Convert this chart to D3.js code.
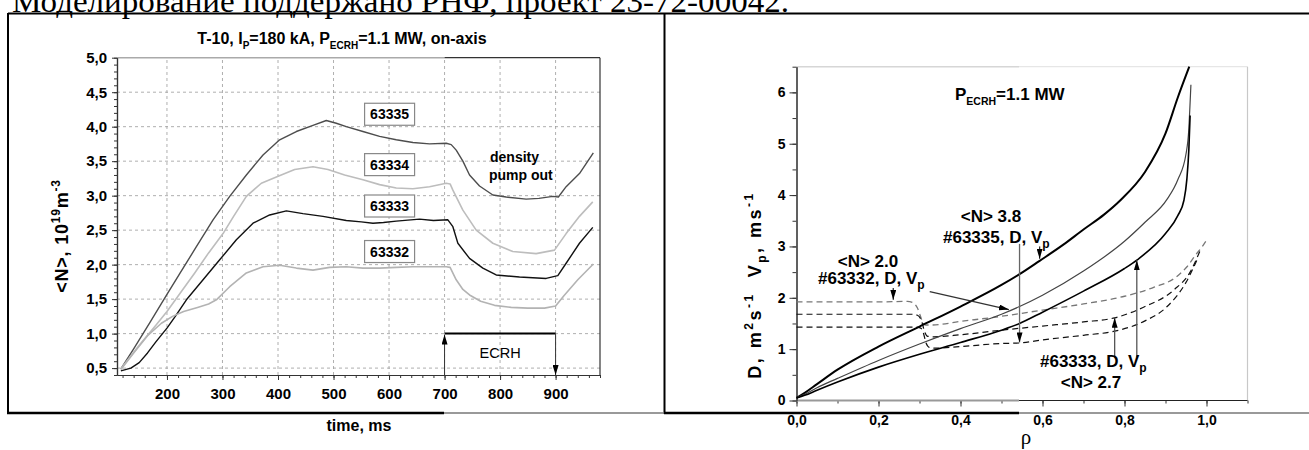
<!DOCTYPE html>
<html><head><meta charset="utf-8">
<script src="https://cdn.jsdelivr.net/npm/d3@7"></script>
<style>
body{margin:0;background:#fff;}
svg{display:block;}
</style></head><body>
<svg id="c" width="1309" height="450" font-family='"Liberation Sans",Arial,sans-serif'></svg>
<script>
// ---------------- DATA (left panel: line-averaged density vs time) ----------------
const timeTicks=[200,300,400,500,600,700,800,900];
const timeMinor=d3.range(120,981,20);
const densTicks=[0.5,1.0,1.5,2.0,2.5,3.0,3.5,4.0,4.5,5.0];
const densMinor=d3.range(4,51,1).map(d=>d/10);

const t63335=[117,140,170,200,223,253,283,313,343,373,403,433,463,487,505,523,553,583,613,643,673,703,712,721,733,745,763,787,811,847,870,895,905,919,943,968];
const n63335=[0.49,0.78,1.17,1.57,1.87,2.26,2.65,2.99,3.30,3.59,3.81,3.93,4.02,4.09,4.05,4.00,3.93,3.86,3.81,3.77,3.75,3.76,3.74,3.66,3.50,3.30,3.14,3.01,2.98,2.95,2.96,2.99,2.98,3.13,3.32,3.62];
const t63334=[117,150,180,200,225,250,275,301,320,343,370,397,430,463,490,520,553,583,613,643,673,703,710,715,733,757,787,823,865,898,919,943,967];
const n63334=[0.49,0.83,1.12,1.32,1.60,1.88,2.17,2.45,2.70,2.99,3.18,3.27,3.38,3.42,3.38,3.30,3.23,3.16,3.11,3.10,3.13,3.18,3.17,3.08,2.79,2.50,2.31,2.19,2.16,2.21,2.45,2.70,2.91];
const t63333=[117,135,150,165,180,200,215,235,265,295,325,355,385,415,445,481,523,550,571,590,613,655,680,706,715,724,745,769,793,835,883,904,919,943,967];
const n63333=[0.46,0.50,0.58,0.72,0.88,1.08,1.25,1.49,1.78,2.07,2.36,2.60,2.72,2.78,2.74,2.70,2.64,2.62,2.60,2.61,2.63,2.66,2.64,2.65,2.55,2.31,2.09,1.95,1.85,1.82,1.80,1.84,2.02,2.31,2.54];
const t63332=[117,140,165,190,210,230,255,275,289,313,343,373,403,433,463,493,523,553,583,613,643,673,703,710,721,733,745,765,790,820,850,880,900,915,940,968];
const n63332=[0.48,0.72,0.97,1.15,1.25,1.32,1.38,1.43,1.49,1.68,1.88,1.97,1.99,1.95,1.92,1.96,1.97,1.95,1.95,1.96,1.97,1.97,1.97,1.96,1.78,1.64,1.56,1.47,1.41,1.38,1.37,1.37,1.40,1.55,1.78,2.01];
const shotNames=["63335","63334","63333","63332"];
const labelTime=601;
const labelDens=[4.18,3.45,2.85,2.19];
const ecrhStart=700, ecrhEnd=900, ecrhLevel=1.0;

// ---------------- DATA (right panel: D and Vp profiles vs rho) ----------------
const rhoTicks=[0,0.2,0.4,0.6,0.8,1.0];
const rhoMinor=d3.range(0,12,1).map(d=>d/10);
const dvTicks=[0,1,2,3,4,5,6];
const dvMinor=d3.range(0,14,1).map(d=>d/2);

const rhoD63335=[0,0.02,0.05,0.1,0.2,0.3,0.4,0.5,0.544,0.593,0.65,0.7,0.75,0.79,0.85,0.9,0.93,0.958];
const D63335   =[0.05,0.15,0.32,0.6,1.05,1.44,1.83,2.25,2.46,2.72,3.03,3.33,3.62,3.9,4.45,5.2,5.9,6.5];
const rhoD63332=[0,0.02,0.05,0.1,0.2,0.3,0.4,0.5,0.544,0.6,0.7,0.8,0.85,0.904,0.93,0.95,0.957,0.96,0.962];
const D63332   =[0.05,0.12,0.25,0.43,0.78,1.1,1.4,1.68,1.83,2.05,2.52,3.1,3.47,3.92,4.3,4.8,5.3,5.8,6.15];
const rhoD63333=[0,0.02,0.05,0.1,0.2,0.3,0.4,0.5,0.544,0.6,0.7,0.8,0.831,0.9,0.93,0.945,0.952,0.957,0.96];
const D63333   =[0.05,0.1,0.2,0.36,0.65,0.9,1.13,1.37,1.5,1.72,2.13,2.57,2.74,3.25,3.6,3.9,4.3,4.9,5.55];

const rhoV63332=[0,0.1,0.2,0.27,0.285,0.295,0.302,0.308,0.315,0.33,0.4,0.5,0.6,0.7,0.8,0.87,0.927,0.953,0.975,0.99,1.0];
const V63332   =[1.92,1.92,1.92,1.93,1.9,1.8,1.65,1.52,1.47,1.47,1.54,1.64,1.76,1.88,2.03,2.2,2.41,2.61,2.85,3.0,3.12];
const rhoV63333=[0,0.1,0.2,0.28,0.295,0.305,0.312,0.32,0.335,0.4,0.5,0.6,0.7,0.776,0.85,0.92,0.96,0.985];
const V63333   =[1.68,1.68,1.68,1.68,1.66,1.55,1.35,1.25,1.24,1.28,1.37,1.45,1.53,1.61,1.83,2.15,2.5,2.93];
const rhoV63335=[0,0.1,0.2,0.29,0.303,0.31,0.316,0.325,0.34,0.4,0.5,0.544,0.6,0.7,0.776,0.85,0.904,0.95,0.977];
const V63335   =[1.43,1.43,1.43,1.43,1.41,1.3,1.12,1.03,1.02,1.05,1.11,1.12,1.18,1.27,1.35,1.55,1.83,2.3,2.74];

// ---------------- DRAWING ----------------
const svg=d3.select("#c");
const SERIF='"Liberation Serif","Times New Roman",serif';
const comma=(d,n)=>d.toFixed(n).replace('.',',');

function rich(sel,parts,base,small){
  let shift=0;
  parts.forEach(p=>{
    const target=p.s==='sup'?-0.42*base:p.s==='sub'?0.3*base:0;
    sel.append('tspan').attr('dy',target-shift).attr('font-size',p.s?small:base).text(p.t);
    shift=target;
  });
}

const defs=svg.append("defs");
defs.append("marker").attr("id","ah").attr("viewBox","0 0 10 6").attr("refX",10).attr("refY",3)
  .attr("markerWidth",10).attr("markerHeight",6).attr("markerUnits","userSpaceOnUse")
  .attr("orient","auto").append("path").attr("d","M0,0 L10,3 L0,6 Z").attr("fill","#000");

// top page text (partially cut in the reference as well)
svg.append("text").attr("x",12).attr("y",12).attr("font-family",SERIF)
  .attr("font-size",31).attr("textLength",777).attr("lengthAdjust","spacingAndGlyphs").attr("fill","#000")
  .text("Моделирование поддержано РНФ, проект 23-72-00042.");

// page frame
const frame=svg.append("g");
frame.append("line").attr("x1",8).attr("x2",1309).attr("y1",13.5).attr("y2",13.5).attr("stroke","#000").attr("stroke-width",2);
frame.append("line").attr("x1",8).attr("x2",8).attr("y1",13).attr("y2",414).attr("stroke","#000").attr("stroke-width",2);
frame.append("line").attr("x1",664.5).attr("x2",664.5).attr("y1",13).attr("y2",414).attr("stroke","#000").attr("stroke-width",2);
frame.append("line").attr("x1",7).attr("x2",444).attr("y1",413).attr("y2",413).attr("stroke","#000").attr("stroke-width",2.5);
frame.append("line").attr("x1",444).attr("x2",664).attr("y1",413).attr("y2",413).attr("stroke","#777").attr("stroke-width",1.5);
frame.append("line").attr("x1",664).attr("x2",1019).attr("y1",413).attr("y2",413).attr("stroke","#000").attr("stroke-width",2.5);
frame.append("line").attr("x1",1019).attr("x2",1309).attr("y1",413).attr("y2",413).attr("stroke","#777").attr("stroke-width",1.5);

// ===== LEFT PANEL =====
const xL=d3.scaleLinear().domain([110,980]).range([117,600]);
const yL=d3.scaleLinear().domain([0.4,5.0]).range([375,57.7]);
const L=svg.append("g");

L.append("g").selectAll("line").data(timeTicks).join("line")
  .attr("x1",d=>xL(d)).attr("x2",d=>xL(d)).attr("y1",yL(0.4)).attr("y2",yL(5.0))
  .attr("stroke","#9a9a9a").attr("stroke-width",0.8).attr("stroke-dasharray","3,3");
L.append("g").selectAll("line").data(densTicks.filter(d=>d<5)).join("line")
  .attr("x1",xL(110)).attr("x2",xL(980)).attr("y1",d=>yL(d)).attr("y2",d=>yL(d))
  .attr("stroke","#9a9a9a").attr("stroke-width",0.8).attr("stroke-dasharray","3,3");

L.append("line").attr("x1",xL(110)).attr("x2",xL(700)).attr("y1",yL(5)).attr("y2",yL(5)).attr("stroke","#aaa").attr("stroke-width",1.5);
L.append("line").attr("x1",xL(700)).attr("x2",xL(980)).attr("y1",yL(5)).attr("y2",yL(5)).attr("stroke","#333").attr("stroke-width",1.2);
L.append("line").attr("x1",xL(980)).attr("x2",xL(980)).attr("y1",yL(5)).attr("y2",yL(0.4)).attr("stroke","#333").attr("stroke-width",1.2);

function styleAxis(g,size){g.attr("font-family",null).attr("font-size",size).attr("font-weight","bold");
  g.selectAll("path.domain").attr("stroke","#333").attr("stroke-width",1.2);
  g.selectAll(".tick line").attr("stroke","#333");}
L.append("g").attr("transform",`translate(0,${yL(0.4)})`)
  .call(d3.axisBottom(xL).tickValues(timeMinor).tickSize(3).tickFormat("").tickSizeOuter(0)).call(g=>styleAxis(g,15));
L.append("g").attr("transform",`translate(0,${yL(0.4)})`)
  .call(d3.axisBottom(xL).tickValues(timeTicks).tickSize(5).tickPadding(8).tickFormat(d=>d).tickSizeOuter(0)).call(g=>styleAxis(g,15));
L.append("g").attr("transform",`translate(${xL(110)},0)`)
  .call(d3.axisLeft(yL).tickValues(densMinor).tickSize(3).tickFormat("").tickSizeOuter(0)).call(g=>styleAxis(g,15));
L.append("g").attr("transform",`translate(${xL(110)},0)`)
  .call(d3.axisLeft(yL).tickValues(densTicks).tickSize(5).tickPadding(5).tickFormat(d=>comma(d,1)).tickSizeOuter(0)).call(g=>styleAxis(g,15));

// ECRH box
L.append("line").attr("x1",xL(ecrhStart)).attr("x2",xL(ecrhEnd)).attr("y1",yL(ecrhLevel)).attr("y2",yL(ecrhLevel)).attr("stroke","#000").attr("stroke-width",2);
L.append("line").attr("x1",xL(ecrhStart)).attr("x2",xL(ecrhStart)).attr("y1",yL(0.4)).attr("y2",yL(ecrhLevel)+1)
  .attr("stroke","#333").attr("stroke-width",1).attr("marker-end","url(#ah)");
L.append("line").attr("x1",xL(ecrhEnd)).attr("x2",xL(ecrhEnd)).attr("y1",yL(ecrhLevel)).attr("y2",yL(0.4))
  .attr("stroke","#333").attr("stroke-width",1).attr("marker-end","url(#ah)");
L.append("text").attr("x",xL(800)).attr("y",yL(0.72)+5).attr("text-anchor","middle").attr("font-size",14.5).text("ECRH");

const lineL=d3.line().x(d=>xL(d[0])).y(d=>yL(d[1]));
const series=[
  {t:t63335,n:n63335,c:"#4d4d4d",w:1.4},
  {t:t63334,n:n63334,c:"#bdbdbd",w:1.6},
  {t:t63333,n:n63333,c:"#111",w:1.4},
  {t:t63332,n:n63332,c:"#b3b3b3",w:1.6}
];
L.append("g").selectAll("path").data(series).join("path")
  .attr("d",s=>lineL(s.t.map((t,i)=>[t,s.n[i]]))).attr("fill","none")
  .attr("stroke",s=>s.c).attr("stroke-width",s=>s.w).attr("stroke-linejoin","round");

const lb=L.append("g").selectAll("g").data(shotNames).join("g")
  .attr("transform",(d,i)=>`translate(${xL(labelTime)},${yL(labelDens[i])})`);
lb.append("rect").attr("x",-25).attr("y",-11).attr("width",50).attr("height",22).attr("fill","#fff").attr("stroke","#888").attr("stroke-width",1.2);
lb.append("text").attr("text-anchor","middle").attr("y",5).attr("font-size",14).attr("font-weight","bold").text(d=>d);

L.append("text").attr("x",490).attr("y",162).attr("font-size",14).attr("font-weight","bold").text("density");
L.append("text").attr("x",489).attr("y",180).attr("font-size",14).attr("font-weight","bold").text("pump out");

const tt=L.append("text").attr("x",342).attr("y",44).attr("text-anchor","middle").attr("font-weight","bold");
rich(tt,[{t:"T-10, I"},{t:"P",s:"sub"},{t:"=180 kA, P"},{t:"ECRH",s:"sub"},{t:"=1.1 MW, on-axis"}],16,10);

L.append("text").attr("x",359).attr("y",431).attr("text-anchor","middle").attr("font-size",16).attr("font-weight","bold").text("time, ms");
const yt=L.append("text").attr("transform","translate(68,236) rotate(-90)").attr("text-anchor","middle").attr("font-weight","bold").attr("letter-spacing",0.8);
rich(yt,[{t:"<N>, 10"},{t:"19",s:"sup"},{t:"m"},{t:"-3",s:"sup"}],18,12);

// ===== RIGHT PANEL =====
const xR=d3.scaleLinear().domain([0,1.1]).range([796.5,1247.5]);
const yR=d3.scaleLinear().domain([0,6.5]).range([400.5,66.7]);
const R=svg.append("g");

R.append("line").attr("x1",xR(0)).attr("x2",1019).attr("y1",yR(6.5)).attr("y2",yR(6.5)).attr("stroke","#d6d6d6").attr("stroke-width",1.5);
R.append("line").attr("x1",1019).attr("x2",xR(1.1)).attr("y1",yR(6.5)).attr("y2",yR(6.5)).attr("stroke","#e6e6e6").attr("stroke-width",1.2);
R.append("line").attr("x1",xR(1.1)).attr("x2",xR(1.1)).attr("y1",yR(6.5)).attr("y2",yR(0)).attr("stroke","#c8c8c8").attr("stroke-width",1.2);

const ax1=R.append("g").attr("transform",`translate(0,${yR(0)})`)
  .call(d3.axisBottom(xR).tickValues(rhoMinor).tickSize(3).tickFormat("").tickSizeOuter(0)).call(g=>styleAxis(g,14));
const ax2=R.append("g").attr("transform",`translate(0,${yR(0)})`)
  .call(d3.axisBottom(xR).tickValues(rhoTicks).tickSize(6).tickPadding(8.5).tickFormat(d=>comma(d,1)).tickSizeOuter(0)).call(g=>styleAxis(g,14));
ax1.select("path.domain").remove(); ax2.select("path.domain").remove();
R.append("line").attr("x1",xR(0)).attr("x2",1019).attr("y1",yR(0)).attr("y2",yR(0)).attr("stroke","#999").attr("stroke-width",2.2);
R.append("line").attr("x1",1019).attr("x2",xR(1.1)).attr("y1",yR(0)).attr("y2",yR(0)).attr("stroke","#222").attr("stroke-width",1);
R.append("g").attr("transform",`translate(${xR(0)},0)`)
  .call(d3.axisLeft(yR).tickValues(dvMinor).tickSize(4).tickFormat("").tickSizeOuter(0)).call(g=>styleAxis(g,14));
R.append("g").attr("transform",`translate(${xR(0)},0)`)
  .call(d3.axisLeft(yR).tickValues(dvTicks).tickSize(7).tickPadding(4).tickFormat(d=>d).tickSizeOuter(0)).call(g=>styleAxis(g,14))
  .call(g=>g.select("path.domain").attr("stroke","#555").attr("stroke-width",1.5));

const lineR=d3.line().x(d=>xR(d[0])).y(d=>yR(d[1])).curve(d3.curveMonotoneX);
const prof=[
  {r:rhoV63332,v:V63332,c:"#777",w:1.3,dash:"6,4"},
  {r:rhoV63333,v:V63333,c:"#111",w:1.2,dash:"6,4"},
  {r:rhoV63335,v:V63335,c:"#111",w:1.2,dash:"6,4"},
  {r:rhoD63335,v:D63335,c:"#000",w:2,dash:null},
  {r:rhoD63332,v:D63332,c:"#444",w:1.2,dash:null},
  {r:rhoD63333,v:D63333,c:"#000",w:1.6,dash:null}
];
R.append("g").selectAll("path").data(prof).join("path")
  .attr("d",s=>lineR(s.r.map((r,i)=>[r,s.v[i]]))).attr("fill","none")
  .attr("stroke",s=>s.c).attr("stroke-width",s=>s.w).attr("stroke-dasharray",s=>s.dash);

const arr=(r1,v1,r2,v2,c)=>R.append("line").attr("x1",xR(r1)).attr("y1",yR(v1)).attr("x2",xR(r2)).attr("y2",yR(v2))
  .attr("stroke",c||"#444").attr("stroke-width",1.3).attr("marker-end","url(#ah)");
arr(0.544,3.05,0.544,1.13,"#666");
arr(0.593,3.0,0.593,2.76,"#333");
arr(0.236,2.19,0.236,1.96,"#333");
arr(0.325,2.12,0.518,1.77,"#333");
arr(0.776,0.84,0.776,1.61,"#555");
arr(0.83,0.84,0.83,2.73,"#555");

const pt=R.append("text").attr("x",955).attr("y",100).attr("font-weight","bold");
rich(pt,[{t:"P"},{t:"ECRH",s:"sub"},{t:"=1.1 MW"}],17,10.5);
R.append("text").attr("x",991).attr("y",222).attr("text-anchor","middle").attr("font-size",17).attr("font-weight","bold").text("<N> 3.8");
const a1=R.append("text").attr("x",943).attr("y",243).attr("font-weight","bold");
rich(a1,[{t:"#63335, D, V"},{t:"p",s:"sub"}],17,12);
R.append("text").attr("x",868).attr("y",267).attr("text-anchor","middle").attr("font-size",17).attr("font-weight","bold").text("<N> 2.0");
const a2=R.append("text").attr("x",818).attr("y",284).attr("font-weight","bold");
rich(a2,[{t:"#63332, D, V"},{t:"p",s:"sub"}],17,12);
const a3=R.append("text").attr("x",1040).attr("y",367).attr("font-weight","bold");
rich(a3,[{t:"#63333, D, V"},{t:"p",s:"sub"}],17,12);
R.append("text").attr("x",1091).attr("y",388).attr("text-anchor","middle").attr("font-size",17).attr("font-weight","bold").text("<N> 2.7");

R.append("text").attr("x",1026).attr("y",444).attr("text-anchor","middle").attr("font-family",SERIF).attr("font-size",21).text("ρ");
const yr=R.append("text").attr("transform","translate(761,285) rotate(-90)").attr("text-anchor","middle").attr("font-weight","bold").attr("letter-spacing",2.5).style("white-space","pre");
rich(yr,[{t:"D, m"},{t:"2",s:"sup"},{t:"s"},{t:"-1",s:"sup"},{t:"  V"},{t:"p",s:"sub"},{t:", ms"},{t:"-1",s:"sup"}],18,12);
</script>
</body></html>
